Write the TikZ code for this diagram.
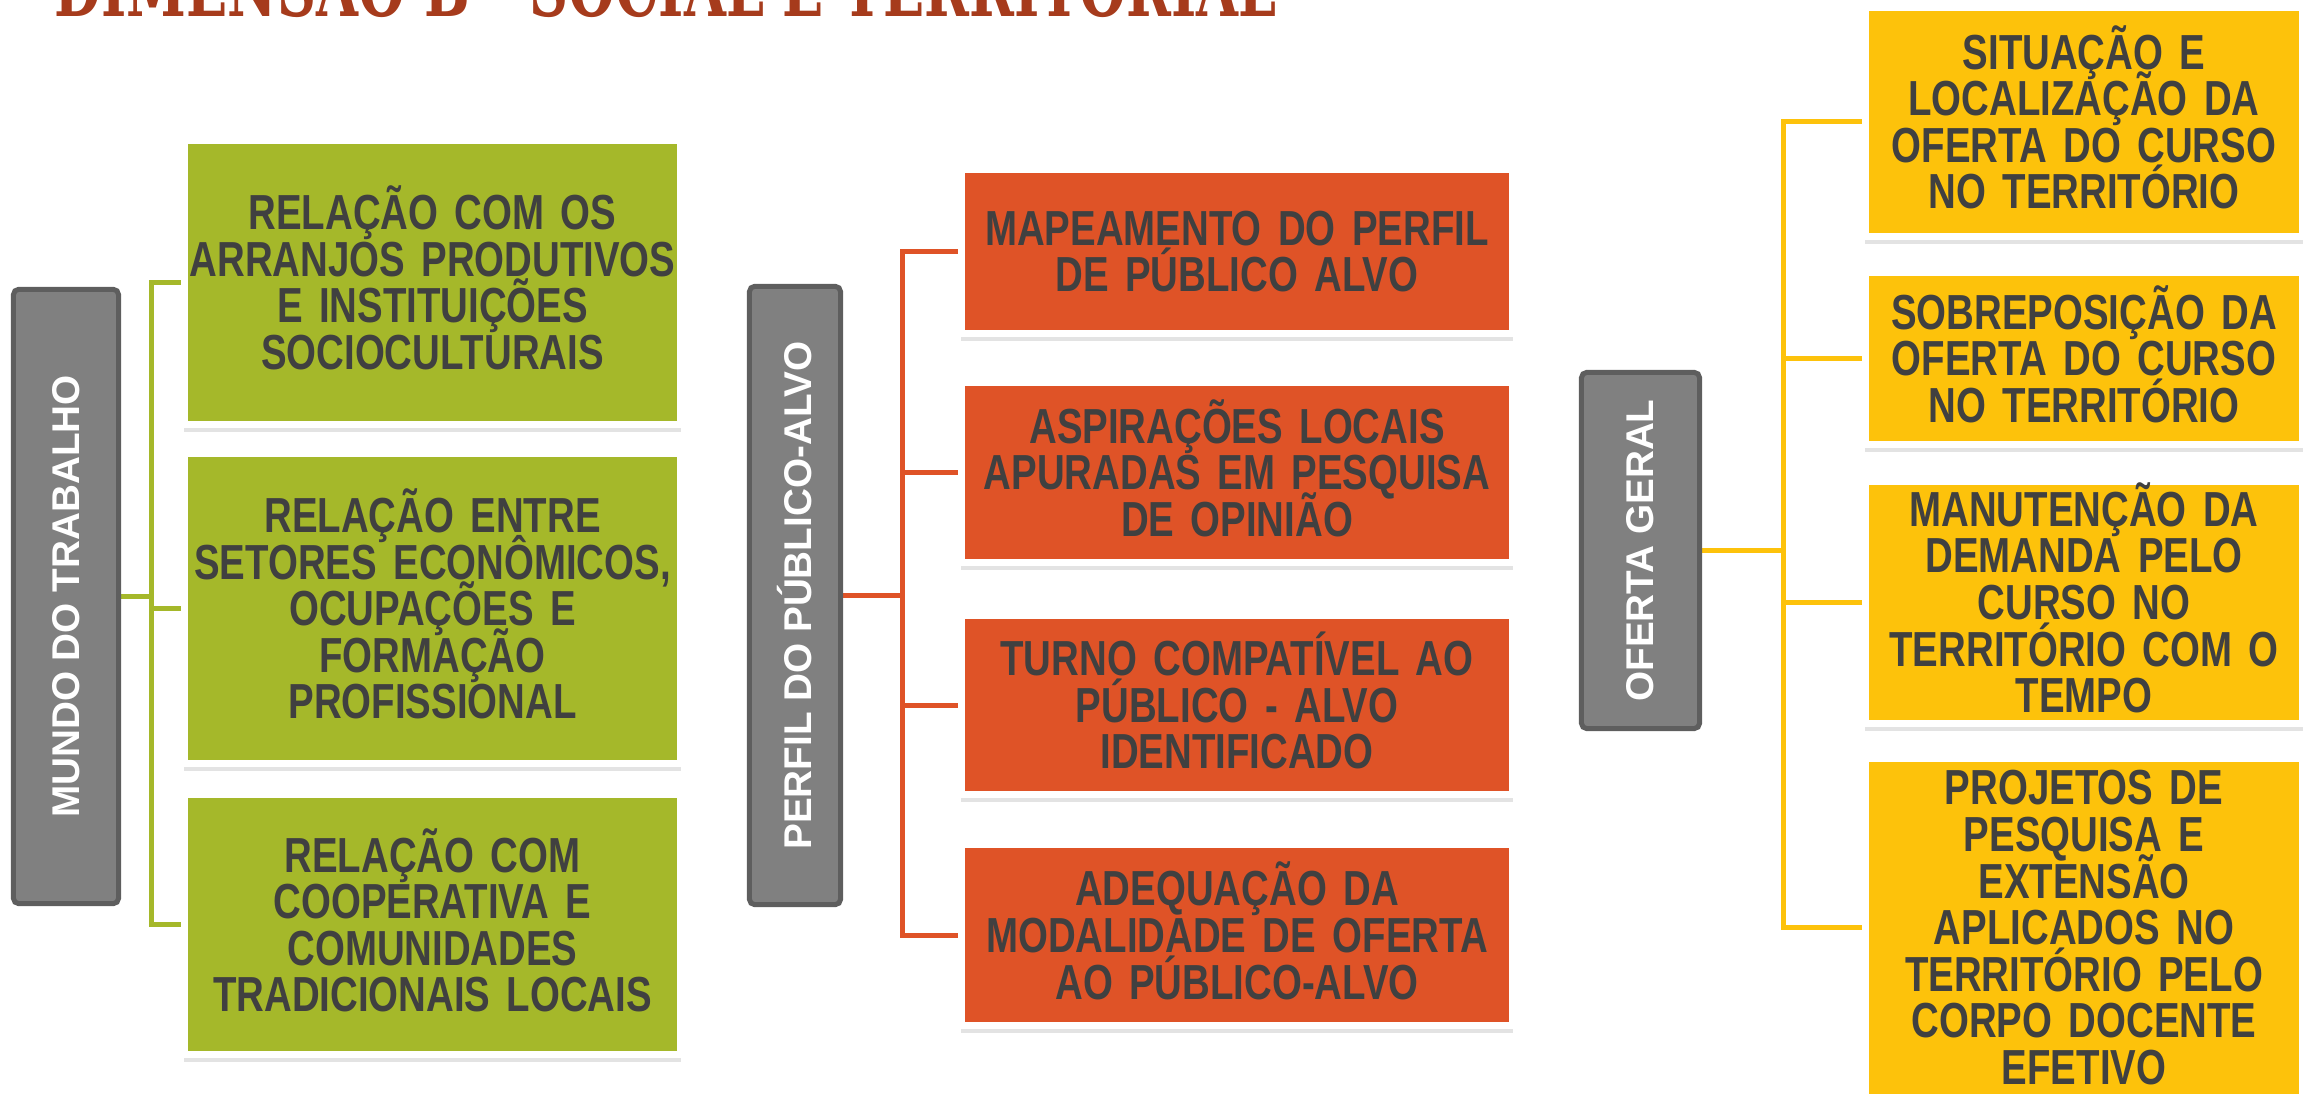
\documentclass[tikz,border=0pt]{standalone}
\usepackage{fontspec}
\setmainfont{Liberation Sans}
\newfontfamily\Boxfont[FakeStretch=0.78]{Liberation Sans}
\newfontfamily\Titlefont[FakeStretch=0.68]{DejaVu Serif}
\usepackage{tikz}
\usetikzlibrary{positioning, shadows, calc}
\pgfdeclarelayer{background}
\pgfsetlayers{background,main}
\newcommand{\Tightlines}{\lineskiplimit=-20pt\relax}
\newcommand{\Topstrut}{\rule{0pt}{12.67pt}}
\newcommand{\Botstrut}{\rule[-2.97pt]{0pt}{2.97pt}}
\definecolor{verde}{HTML}{A5B82A}
\definecolor{laranja}{HTML}{DF5327}
\definecolor{amarelo}{HTML}{FDC20B}
\definecolor{cinza}{HTML}{808080}
\definecolor{cinzaborda}{HTML}{5E5E5E}
\definecolor{texto}{HTML}{404040}
\definecolor{titulo}{HTML}{A63B1C}
\tikzset{
    dim/.style={draw=cinzaborda, fill=cinza, line width=0.05cm, rounded corners=1.5pt,
        text=white, inner sep=0pt, font=\bfseries\fontsize{11}{13}\selectfont},
    leaf/.style={draw=white, line width=0.07cm, text=texto, align=center, inner sep=0pt,
        font=\Boxfont\bfseries\fontsize{14}{13.25}\selectfont\Tightlines,
        execute at begin node=\Topstrut, execute at end node=\Botstrut,
        drop shadow={shadow xshift=0pt, shadow yshift=-0.075cm, opacity=0.22}},
    leafm/.style={leaf, fill=verde, minimum width=4.96cm, text width=4.96cm},
    leafp/.style={leaf, fill=laranja, minimum width=5.51cm, text width=5.51cm},
    leafo/.style={leaf, fill=amarelo, minimum width=4.37cm, text width=4.37cm},
    branch/.style={line width=0.05cm},
}

\begin{document}
\begin{tikzpicture}[x=0.01cm, y=-0.01cm]
    \useasboundingbox (0,0) rectangle (2305,1095);

    \node[anchor=base west, inner sep=0pt, text=titulo,
        font=\Titlefont\bfseries\fontsize{22.6}{22.6}\selectfont] (tit) at (54,17)
        {DIMENSÃO B - SOCIAL E TERRITORIAL};

    % mundo do trabalho
    \node[dim, minimum width=1.05cm, minimum height=6.14cm] (mt) at (66,596.5)
        {\rotatebox{90}{MUNDO DO TRABALHO}};
    \node[leafm, minimum height=2.84cm] (m1) at (432.5,282.5)
        {RELAÇÃO COM OS\\ARRANJOS PRODUTIVOS\\E INSTITUIÇÕES\\SOCIOCULTURAIS};
    \node[leafm, minimum height=3.10cm, below=0.22cm of m1] (m2)
        {RELAÇÃO ENTRE\\SETORES ECONÔMICOS,\\OCUPAÇÕES E\\FORMAÇÃO\\PROFISSIONAL};
    \node[leafm, minimum height=2.60cm, below=0.24cm of m2] (m3)
        {RELAÇÃO COM\\COOPERATIVA E\\COMUNIDADES\\TRADICIONAIS LOCAIS};

    % perfil do publico-alvo
    \node[dim, minimum width=0.91cm, minimum height=6.18cm] (pp) at (795,595.5)
        {\rotatebox{90}{PERFIL DO PÚBLICO-ALVO}};
    \node[leafp, minimum height=1.64cm] (p1) at (1237,251.5)
        {MAPEAMENTO DO PERFIL\\DE PÚBLICO ALVO};
    \node[leafp, minimum height=1.80cm, below=0.42cm of p1] (p2)
        {ASPIRAÇÕES LOCAIS\\APURADAS EM PESQUISA\\DE OPINIÃO};
    \node[leafp, minimum height=1.79cm, below=0.46cm of p2] (p3)
        {TURNO COMPATÍVEL AO\\PÚBLICO - ALVO\\IDENTIFICADO};
    \node[leafp, minimum height=1.81cm, below=0.43cm of p3] (p4)
        {ADEQUAÇÃO DA\\MODALIDADE DE OFERTA\\AO PÚBLICO-ALVO};

    % oferta geral
    \node[dim, minimum width=1.18cm, minimum height=3.56cm] (og) at (1640.5,550.5)
        {\rotatebox{90}{OFERTA GERAL}};
    \node[leafo, minimum height=2.29cm] (o1) at (2084,122)
        {SITUAÇÃO E\\LOCALIZAÇÃO DA\\OFERTA DO CURSO\\NO TERRITÓRIO};
    \node[leafo, minimum height=1.72cm, below=0.29cm of o1] (o2)
        {SOBREPOSIÇÃO DA\\OFERTA DO CURSO\\NO TERRITÓRIO};
    \node[leafo, minimum height=2.38cm, below=0.30cm of o2] (o3)
        {MANUTENÇÃO DA\\DEMANDA PELO\\CURSO NO\\TERRITÓRIO COM O\\TEMPO};
    \node[leafo, minimum height=3.39cm, below=0.28cm of o3] (o4)
        {PROJETOS DE\\PESQUISA E\\EXTENSÃO\\APLICADOS NO\\TERRITÓRIO PELO\\CORPO DOCENTE\\EFETIVO};

    \coordinate (mx) at (151.5,596.5);
    \coordinate (px) at (902,595.5);
    \coordinate (ox) at (1783,550.5);

    \begin{pgfonlayer}{background}
        \draw[branch, verde] (mt.east) -- (mx);
        \foreach \b in {m1,m2,m3}
            \draw[branch, verde] (mx) |- (\b.west);
        \draw[branch, laranja] (pp.east) -- (px);
        \foreach \b in {p1,p2,p3,p4}
            \draw[branch, laranja] (px) |- (\b.west);
        \draw[branch, amarelo] (og.east) -- (ox);
        \foreach \b in {o1,o2,o3,o4}
            \draw[branch, amarelo] (ox) |- (\b.west);
    \end{pgfonlayer}
\end{tikzpicture}
\end{document}
